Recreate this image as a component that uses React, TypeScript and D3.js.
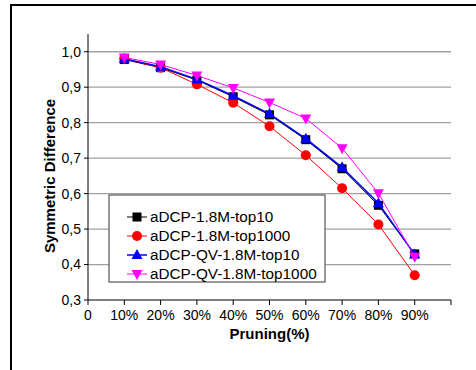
import React from "react";
import * as d3 from "d3";

const xValues = [10, 20, 30, 40, 50, 60, 70, 80, 90];
const seriesNames = ["aDCP-1.8M-top10", "aDCP-1.8M-top1000", "aDCP-QV-1.8M-top10", "aDCP-QV-1.8M-top1000"];
const top10 = [0.978, 0.955, 0.92, 0.873, 0.822, 0.752, 0.67, 0.567, 0.43];
const top1000 = [0.98, 0.955, 0.908, 0.856, 0.79, 0.708, 0.615, 0.513, 0.37];
const qvTop10 = [0.98, 0.958, 0.922, 0.876, 0.825, 0.755, 0.674, 0.573, 0.428];
const qvTop1000 = [0.984, 0.964, 0.933, 0.898, 0.857, 0.812, 0.728, 0.601, 0.422];
const yTicks = [0.3, 0.4, 0.5, 0.6, 0.7, 0.8, 0.9, 1.0];
const xTicks = [0, 10, 20, 30, 40, 50, 60, 70, 80, 90, 100];
const colors = ["#000000", "#ff0000", "#0000ff", "#ff00ff"];
const markers = ["square", "circle", "triangle", "triangleDown"];
const widths = [1, 1, 1.5, 1];

const W = 476, H = 370;
const M = { left: 88, right: 451, top: 34, bottom: 300 };

function Marker({ kind, x, y, color }: { kind: string; x: number; y: number; color: string }) {
  const s = 4.5;
  if (kind === "square") return <rect x={x - s} y={y - s} width={2 * s} height={2 * s} fill={color} />;
  if (kind === "circle") return <circle cx={x} cy={y} r={5} fill={color} />;
  if (kind === "triangle")
    return <path d={`M${x},${y - 6}L${x + 5.5},${y + 4}L${x - 5.5},${y + 4}Z`} fill={color} />;
  return <path d={`M${x},${y + 6}L${x + 5.5},${y - 4}L${x - 5.5},${y - 4}Z`} fill={color} />;
}

export default function App() {
  const x = d3.scaleLinear().domain([0, 100]).range([M.left, M.right]);
  const y = d3.scaleLinear().domain([0.3, 1.05]).range([M.bottom, M.top]);
  const data = [top10, top1000, qvTop10, qvTop1000];
  const line = d3
    .line<number>()
    .x((_, i) => x(xValues[i]))
    .y((d) => y(d));
  const fmt = (v: number) => v.toFixed(1).replace(".", ",");
  const font = "Arial, 'Liberation Sans', sans-serif";
  const legend = { x: 109, y: 195, w: 216, h: 87 };
  const legendRows = [217, 236, 255, 274];

  return (
    <svg width={W} height={H} style={{ position: "absolute", left: 0, top: 0, background: "#fff" }} fontFamily={font}>
      <rect x={0} y={0} width={W} height={H} fill="#fff" />
      {/* outer frame */}
      <line x1={11} y1={5} x2={W} y2={5} stroke="#000" strokeWidth={2} />
      <line x1={11} y1={4} x2={11} y2={H} stroke="#000" strokeWidth={2} />
      {/* gridlines */}
      {yTicks.slice(1).map((t) => (
        <line key={t} x1={M.left} x2={M.right} y1={y(t)} y2={y(t)} stroke="#a0a0a0" strokeWidth={1.3} />
      ))}
      {/* axes */}
      <line x1={M.left} x2={M.left} y1={M.top} y2={M.bottom} stroke="#000" strokeWidth={1} />
      <line x1={M.left} x2={M.right} y1={M.bottom} y2={M.bottom} stroke="#000" strokeWidth={1} />
      {yTicks.map((t) => (
        <g key={t}>
          <line x1={M.left - 4} x2={M.left} y1={y(t)} y2={y(t)} stroke="#000" />
          <text x={M.left - 7} y={y(t)} dy="0.35em" textAnchor="end" fontSize={14} fill="#000">
            {fmt(t)}
          </text>
        </g>
      ))}
      {xTicks.map((t) => (
        <g key={t}>
          <line x1={x(t)} x2={x(t)} y1={M.bottom} y2={M.bottom + 5} stroke="#000" />
          {t < 100 && (
            <text x={x(t)} y={M.bottom + 20} textAnchor="middle" fontSize={14} fill="#000">
              {t === 0 ? "0" : `${t}%`}
            </text>
          )}
        </g>
      ))}
      <text x={(M.left + M.right) / 2} y={339} textAnchor="middle" fontSize={15} fontWeight="bold">
        Pruning(%)
      </text>
      <text
        transform={`translate(55,176) rotate(-90)`}
        textAnchor="middle"
        fontSize={15}
        fontWeight="bold"
      >
        Symmetric Difference
      </text>
      {/* series */}
      {data.map((vals, si) => (
        <g key={si}>
          <path d={line(vals) || ""} fill="none" stroke={colors[si]} strokeWidth={widths[si]} />
          {vals.map((v, i) => (
            <Marker key={i} kind={markers[si]} x={x(xValues[i])} y={y(v)} color={colors[si]} />
          ))}
        </g>
      ))}
      {/* legend */}
      <rect x={legend.x} y={legend.y} width={legend.w} height={legend.h} fill="#fff" stroke="#555" strokeWidth={1.2} />
      {seriesNames.map((n, i) => (
        <g key={n}>
          <line x1={127} x2={147} y1={legendRows[i]} y2={legendRows[i]} stroke={colors[i]} strokeWidth={widths[i]} />
          <Marker kind={markers[i]} x={137} y={legendRows[i]} color={colors[i]} />
          <text x={150} y={legendRows[i]} dy="0.35em" fontSize={15.3} fill="#000">
            {n}
          </text>
        </g>
      ))}
    </svg>
  );
}
